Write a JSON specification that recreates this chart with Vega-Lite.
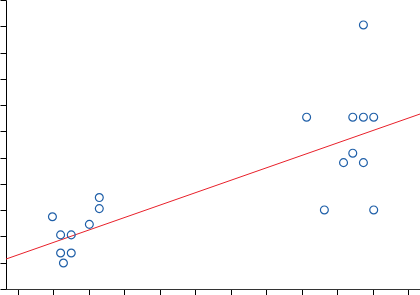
{
  "$schema": "https://vega.github.io/schema/vega-lite/v6.json",
  "autosize": "none",
  "padding": {"left": 6, "top": 0, "right": 0, "bottom": 6},
  "width": 414,
  "height": 289,
  "background": "white",
  "config": {"view": {"stroke": null}},
  "datasets": {
    "points": [
      {"x": 1.97, "y": 2.75},
      {"x": 2.2, "y": 2.06},
      {"x": 2.5, "y": 2.06},
      {"x": 3.01, "y": 2.46},
      {"x": 3.29, "y": 3.48},
      {"x": 3.29, "y": 3.06},
      {"x": 2.2, "y": 1.37},
      {"x": 2.5, "y": 1.37},
      {"x": 2.28, "y": 0.99},
      {"x": 10.73, "y": 10.05},
      {"x": 9.13, "y": 6.54},
      {"x": 10.43, "y": 6.54},
      {"x": 10.73, "y": 6.54},
      {"x": 11.02, "y": 6.54},
      {"x": 10.43, "y": 5.17},
      {"x": 10.17, "y": 4.81},
      {"x": 10.73, "y": 4.81},
      {"x": 9.63, "y": 3.01},
      {"x": 11.02, "y": 3.01}
    ],
    "fit": [
      {"x": 0.662, "y": 1.14},
      {"x": 12.324, "y": 6.66}
    ]
  },
  "layer": [
    {
      "data": {"name": "fit"},
      "mark": {"type": "line", "color": "#e8202a", "strokeWidth": 1, "clip": true},
      "encoding": {
        "x": {"field": "x", "type": "quantitative"},
        "y": {"field": "y", "type": "quantitative"}
      }
    },
    {
      "data": {"name": "points"},
      "mark": {"type": "point", "shape": "circle", "filled": false, "color": "#1f5fa8", "strokeWidth": 1.2, "size": 62, "opacity": 1},
      "encoding": {
        "x": {
          "field": "x", "type": "quantitative",
          "scale": {"domain": [0.662, 12.324], "nice": false, "zero": false},
          "axis": {"values": [1,2,3,4,5,6,7,8,9,10,11,12], "tickCount": 30, "grid": false, "title": null, "domainColor": "#333", "tickColor": "#000", "tickSize": 6, "labels": true, "labelOverlap": false, "labelFontSize": 10, "labelColor": "#000", "labelPadding": 2}
        },
        "y": {
          "field": "y", "type": "quantitative",
          "scale": {"domain": [0, 11], "nice": false, "zero": false},
          "axis": {"values": [0,1,2,3,4,5,6,7,8,9,10,11], "tickCount": 30, "grid": false, "title": null, "domainColor": "#000", "tickColor": "#000", "tickSize": 6, "labels": true, "labelOverlap": false, "labelFontSize": 10, "labelColor": "#000", "labelPadding": 2}
        }
      }
    }
  ]
}
